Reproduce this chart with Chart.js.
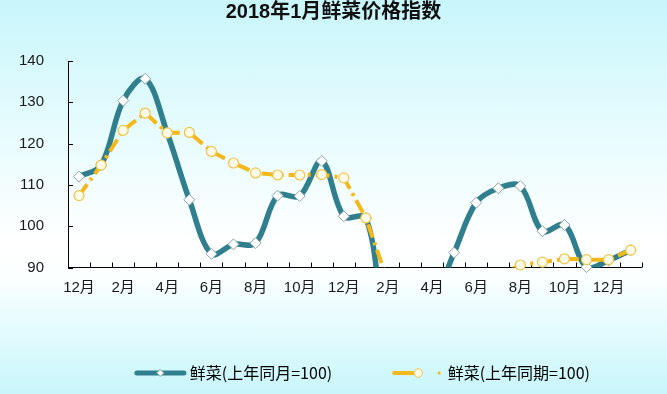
<!DOCTYPE html>
<html>
<head>
<meta charset="utf-8">
<script src="https://cdn.jsdelivr.net/npm/chart.js@4.4.1/dist/chart.umd.min.js"></script>
<style>
  html, body { margin: 0; padding: 0; }
  body {
    width: 667px; height: 394px; overflow: hidden;
    background: linear-gradient(to bottom, #c8f6fb 0%, #e4fbfd 30%, #ffffff 62%, #fbffff 70%, #c8f6fb 100%);
  }
  canvas { display: block; }
</style>
</head>
<body>
<canvas id="vegChart" width="667" height="394"></canvas>
<script>
// 2015年12月 ~ 2018年1月
const months = ['12月',
  '1月', '2月', '3月', '4月', '5月', '6月', '7月', '8月', '9月', '10月', '11月', '12月',
  '1月', '2月', '3月', '4月', '5月', '6月', '7月', '8月', '9月', '10月', '11月', '12月',
  '1月'];

// 鲜菜(上年同月=100)
const sameMonth = [112.0, 114.8, 130.4, 135.7, 122.5, 106.4, 93.3, 95.6, 95.9, 107.4, 107.3, 115.8, 102.4,
  102.0, 75.4, 77.9, 81.5, 93.6, 105.7, 109.2, 109.7, 98.8, 100.3, 90.1, 91.7, 94.2];

// 鲜菜(上年同期=100)，2017年2-7月低于90，图中看不到，为估计值
const samePeriod = [107.4, 114.8, 123.2, 127.4, 122.6, 122.7, 118.1, 115.3, 112.9, 112.4, 112.4, 112.5, 111.7,
  102.0, 86.6, 85.0, 84.5, 86.0, 87.0, 88.0, 90.6, 91.3, 92.1, 91.9, 91.9, 94.2];

const yMin = 90, yMax = 140, yStep = 10;

const seriesNames = ['鲜菜(上年同月=100)', '鲜菜(上年同期=100)'];

const teal = '#2f7f8e';
const gold = '#f3b81a';
const fontFamily = "'Liberation Sans', 'Noto Sans CJK SC', sans-serif";

// 图例里的小图标（线 + 标记），原点对准图例项的左边
const boxW = 39.5;
const iconW = 72;
function legendIcon(draw) {
  const c = document.createElement('canvas');
  c.width = iconW;
  c.height = 12;
  const g = c.getContext('2d');
  g.translate(iconW / 2 - boxW / 2 - 8, 6);
  draw(g);
  return c;
}

const tealIcon = legendIcon(g => {
  g.strokeStyle = teal;
  g.lineWidth = 5;
  g.lineCap = 'round';
  g.beginPath(); g.moveTo(2.5, 0); g.lineTo(49.5, 0); g.stroke();
  g.fillStyle = '#fff';
  g.strokeStyle = '#8aa4ab';
  g.lineWidth = 1;
  g.beginPath(); g.moveTo(26, -3.5); g.lineTo(29.5, 0); g.lineTo(26, 3.5); g.lineTo(22.5, 0); g.closePath();
  g.fill(); g.stroke();
});

const goldIcon = legendIcon(g => {
  g.strokeStyle = gold;
  g.lineWidth = 4;
  g.lineCap = 'round';
  g.beginPath(); g.moveTo(2, 0); g.lineTo(22, 0); g.stroke();
  g.fillStyle = '#fffbe6';
  g.strokeStyle = '#efc449';
  g.lineWidth = 1;
  g.beginPath(); g.arc(26, 0, 4.2, 0, Math.PI * 2); g.fill(); g.stroke();
  g.fillStyle = gold;
  g.beginPath(); g.arc(47, 0, 1.6, 0, Math.PI * 2); g.fill();
});

// 坐标轴内侧的刻度线
const innerTicks = {
  id: 'innerTicks',
  beforeDatasetsDraw(chart) {
    const {ctx, chartArea, scales: {x, y}} = chart;
    ctx.save();
    ctx.strokeStyle = '#000';
    ctx.lineWidth = 1;
    ctx.beginPath();
    for (let i = 0; i <= months.length; i++) {
      const px = Math.round(x.getPixelForValue(i - 0.5)) + 0.5;
      ctx.moveTo(px, chartArea.bottom);
      ctx.lineTo(px, chartArea.bottom - 5);
    }
    y.ticks.forEach(t => {
      const py = Math.round(y.getPixelForValue(t.value)) + 0.5;
      ctx.moveTo(chartArea.left, py);
      ctx.lineTo(chartArea.left + 5, py);
    });
    ctx.stroke();
    ctx.restore();
  }
};

const hideBelow = c => (c.raw < yMin ? 0 : c.chart.data.datasets[c.datasetIndex].markerSize);

new Chart(document.getElementById('vegChart'), {
  type: 'line',
  data: {
    labels: months,
    datasets: [
      {
        label: seriesNames[1] + ' 点',
        data: samePeriod,
        showLine: false,
        markerSize: 5,
        pointStyle: 'circle',
        pointRadius: hideBelow,
        pointBackgroundColor: '#fffbe6',
        pointBorderColor: '#efc449',
        pointBorderWidth: 1.2,
        clip: false,
        order: 0
      },
      {
        label: seriesNames[1],
        data: samePeriod,
        borderColor: gold,
        borderWidth: 4,
        borderDash: [14, 5, 3, 5],
        tension: 0,
        pointRadius: 0,
        clip: {left: false, top: false, right: false, bottom: 0},
        order: 1
      },
      {
        label: seriesNames[0] + ' 点',
        data: sameMonth,
        showLine: false,
        markerSize: 5.5,
        pointStyle: 'rectRot',
        pointRadius: hideBelow,
        pointBackgroundColor: '#ffffff',
        pointBorderColor: '#8aa4ab',
        pointBorderWidth: 1,
        clip: false,
        order: 2
      },
      {
        label: seriesNames[0],
        data: sameMonth,
        borderColor: teal,
        borderWidth: 5.5,
        tension: 0.35,
        capBezierPoints: false,
        pointRadius: 0,
        clip: {left: false, top: false, right: false, bottom: 0},
        order: 3
      }
    ]
  },
  options: {
    responsive: false,
    animation: false,
    events: [],
    layout: { padding: { left: 9, right: 9, bottom: 3 } },
    scales: {
      x: {
        offset: true,
        grid: { display: false, drawTicks: false, offset: true },
        border: { display: true, color: '#000', width: 1 },
        ticks: {
          autoSkip: false,
          maxRotation: 0,
          padding: 11,
          color: '#1a1a1a',
          font: { family: fontFamily, size: 15 },
          callback: (v, i) => (i % 2 === 0 ? months[i] : '')
        },
        afterFit: s => { s.height = 29.5; }
      },
      y: {
        min: yMin,
        max: yMax,
        grid: { display: false, drawTicks: false },
        border: { display: true, color: '#000', width: 1 },
        ticks: {
          stepSize: yStep,
          padding: 24,
          color: '#1a1a1a',
          font: { family: fontFamily, size: 15 }
        },
        afterFit: s => { s.width = 59; }
      },
      yRight: {
        position: 'right',
        display: true,
        grid: { display: false, drawTicks: false },
        border: { display: false },
        ticks: { display: false },
        afterFit: s => { s.width = 16.3; }
      }
    },
    plugins: {
      title: {
        display: true,
        text: '2018年1月鲜菜价格指数',
        color: '#111',
        font: { family: fontFamily, size: 20, weight: 'bold' },
        padding: { top: 0, bottom: 37 }
      },
      legend: {
        position: 'bottom',
        align: 'end',
        labels: {
          usePointStyle: true,
          pointStyleWidth: boxW,
          padding: 68,
          color: '#1a1a1a',
          font: { family: "'Noto Sans CJK SC', sans-serif", size: 16 },
          generateLabels: () => [
            { text: seriesNames[0], pointStyle: tealIcon, datasetIndex: 3, hidden: false, lineWidth: 0,
              fillStyle: 'transparent', strokeStyle: 'transparent' },
            { text: seriesNames[1], pointStyle: goldIcon, datasetIndex: 1, hidden: false, lineWidth: 0,
              fillStyle: 'transparent', strokeStyle: 'transparent' }
          ]
        }
      },
      tooltip: { enabled: false }
    }
  },
  plugins: [innerTicks]
});
</script>
</body>
</html>
